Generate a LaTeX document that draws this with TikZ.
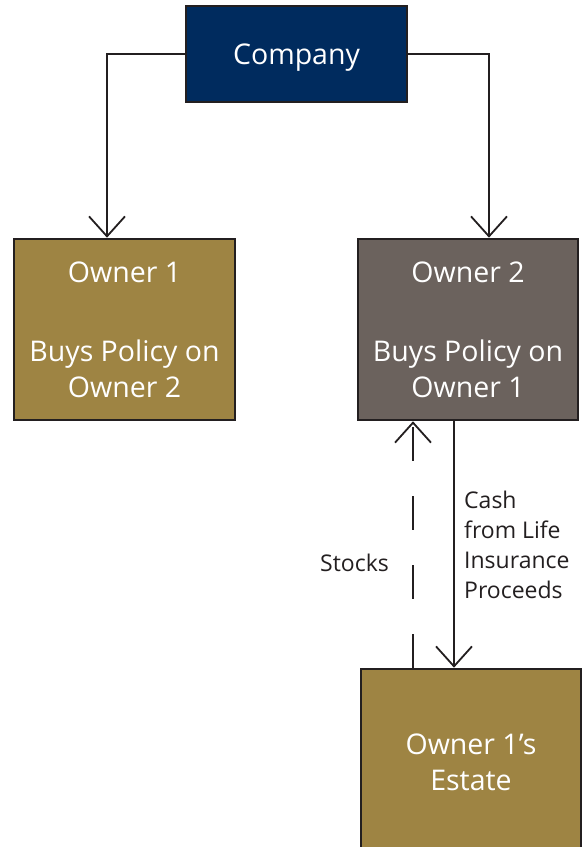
\documentclass[tikz,border=0pt]{standalone}
\usepackage{fontspec}
\setmainfont{Open Sans}
\usetikzlibrary{arrows.meta}
\definecolor{navy}{HTML}{002B5E}
\definecolor{gold}{HTML}{9E8443}
\definecolor{taupe}{HTML}{6B625D}
\definecolor{edge}{HTML}{231F20}
\tikzset{
  box/.style={draw=edge, line width=2.6pt, text=white, align=center,
    inner sep=0pt, font=\fontsize{28.5}{36}\selectfont},
  flow/.style={draw=edge, line width=1.8pt,
    -{Straight Barb[length=20pt,width=36pt,line width=1.8pt]}},
  lbl/.style={text=edge, font=\fontsize{23}{30}\selectfont, inner sep=0pt}
}
\begin{document}
\begin{tikzpicture}[x=1pt,y=-1pt]
  \useasboundingbox (0,0) rectangle (585,847);
  \clip (0,0) rectangle (585,847);
  % boxes
  \node[box, fill=navy, minimum width=221pt, minimum height=96pt] (company) at (296.5,54)
    {\raisebox{-4pt}[\height][\depth]{Company}};
  \node[box, fill=gold, minimum width=221pt, minimum height=181pt] (own1) at (124.5,329.5)
    {Owner 1\\[43pt] Buys Policy on\\ Owner 2};
  \node[box, fill=taupe, minimum width=220pt, minimum height=181pt] (own2) at (468,329.5)
    {Owner 2\\[43pt] Buys Policy on\\ Owner 1};
  \node[box, fill=gold, minimum width=220pt, minimum height=187pt] (estate) at (471,762.5)
    {Owner 1’s\\ Estate};
  % company pays premiums to both owners
  \draw[flow] (company.west) -| (own1.north -| 107,0);
  \draw[flow] (company.east) -| (own2.north -| 489,0);
  % cash down to the estate, stock back up
  \draw[flow] (own2.south -| 454,0) -- (estate.north -| 454,0);
  \draw[flow, dash pattern=on 34pt off 35pt] (estate.north -| 413,0) -- (own2.south -| 413,0);
  % labels
  \node[lbl, anchor=east] (stocks) at (389,563) {Stocks};
  \node[lbl, anchor=west, align=left] (cash) at (464,545) {Cash\\ from Life\\ Insurance\\ Proceeds};
\end{tikzpicture}
\end{document}
